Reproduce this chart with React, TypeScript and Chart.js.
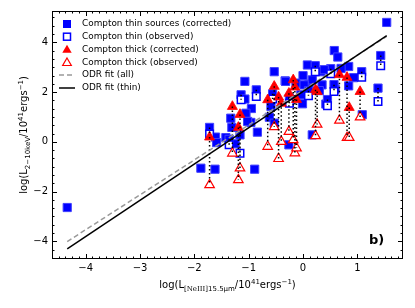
import React, { useEffect, useRef } from "react";
import { Chart, registerables } from "chart.js";

Chart.register(...registerables);

const FONT = '"DejaVu Sans"';

const xTicks = [-4, -3, -2, -1, 0, 1];
const yTicks = [-4, -2, 0, 2, 4];

// Compton thin sources: x, corrected y, observed y (null when observed = corrected)
const thinX = [1.54, -4.34, -1.88, -1.62, -0.89, 0.575, 0.64, 1.43, 0.08, 0.225, 0.33, 0.51, 0.84, 1.08, 0.93, -0.53, -1.07, -0.86, -1.14, -1.07, 1.38, 0.59, 0.84, 0.0, -0.33, -0.13, 0.11, 0.35, 0.3, -0.56, -0.59, -0.95, -1.05, -1.33, -0.96, -0.62, -1.31, -1.72, -1.61, -1.59, -1.42, -1.16, -1.25, -0.84, 0.17, -0.26, 0.42, 1.09, -0.01, 0.17, 0.02, -0.04, -0.53, -1.02, -0.32, 0.39, 0.57, -1.36, -0.25, 0.1, 0.45, 0.7];
const thinCorr = [4.8, -2.64, -1.06, -1.1, -1.1, 3.67, 3.41, 3.47, 3.09, 3.06, 2.82, 2.94, 3.03, 2.82, 2.58, 2.82, 2.43, 2.09, 1.89, 1.72, 2.16, 2.12, 2.25, 2.66, 2.45, 2.36, 2.32, 2.29, 2.06, 1.93, 1.42, 1.34, 1.15, 0.95, 0.78, 0.99, 0.58, 0.58, 0.19, -0.03, 0.17, 0.28, -0.08, 0.39, 0.28, -0.12, 1.52, 1.09, 1.53, 2.49, 2.29, 1.89, 0.75, 0.82, 2.43, 2.9, 2.3, 0.1, 1.75, 2.05, 1.7, 2.95];
const thinObs = [null, null, null, null, null, null, null, 3.06, null, 2.82, null, 2.74, null, 2.6, null, null, null, 1.82, 1.69, null, 1.62, null, null, null, null, null, null, null, null, 1.72, null, null, null, null, null, null, null, 0.32, null, null, null, -0.46, null, null, null, null, null, null, null, null, null, null, null, null, null, null, 2.02, -0.12, 1.55, 1.85, 1.45, null];

// Compton thick sources: x, corrected y, observed y
const thickX = [-1.72, -1.3, -1.16, -1.19, -0.65, -0.45, -0.53, -0.4, -0.26, -0.18, -0.15, -0.12, 0.23, 0.26, 0.67, 0.81, 0.85, 1.05];
const thickCorr = [0.19, 1.42, 1.1, 0.58, 1.69, 1.8, 2.23, 1.55, 1.95, 2.49, 2.2, 1.7, 2.09, 2.02, 2.7, 2.59, 1.38, 2.02];
const thickObs = [-1.73, -0.46, -1.06, -1.53, -0.19, -0.68, 0.6, 0.01, 0.41, 0.08, -0.45, -0.25, 0.24, 0.7, 0.86, 0.17, 0.17, 0.99];

// ODR fits (end points)
const fitAllX = [-4.34, 1.54];
const fitAllY = [-4.01, 4.24];
const fitThinX = [-4.34, 1.54];
const fitThinY = [-4.3, 4.27];

const legendLabels = [
  "Compton thin sources (corrected)",
  "Compton thin (observed)",
  "Compton thick (corrected)",
  "Compton thick (observed)",
  "ODR fit (all)",
  "ODR fit (thin)",
];

const fmt = (v: number) => String(v).replace("-", "\u2212");

type Seg = { t: string; f: string; dy: number };

function drawRich(ctx: CanvasRenderingContext2D, segs: Seg[], cx: number, y: number) {
  let total = 0;
  for (const s of segs) {
    ctx.font = s.f;
    total += ctx.measureText(s.t).width;
  }
  let x = cx - total / 2;
  ctx.textAlign = "left";
  ctx.textBaseline = "alphabetic";
  for (const s of segs) {
    ctx.font = s.f;
    ctx.fillText(s.t, x, y + s.dy);
    x += ctx.measureText(s.t).width;
  }
}

function tri(ctx: CanvasRenderingContext2D, x: number, y: number, r: number) {
  ctx.beginPath();
  ctx.moveTo(x, y - r);
  ctx.lineTo(x + r * 0.866, y + r * 0.5);
  ctx.lineTo(x - r * 0.866, y + r * 0.5);
  ctx.closePath();
}

const decorPlugin = {
  id: "decor",
  afterDraw(chart: any) {
    const ctx: CanvasRenderingContext2D = chart.ctx;
    const { left, right, top, bottom } = chart.chartArea;
    const xs = chart.scales.x;
    const ys = chart.scales.y;
    ctx.save();
    ctx.strokeStyle = "#000";
    ctx.lineWidth = 1;
    ctx.strokeRect(left + 0.5, top + 0.5, right - left - 1, bottom - top - 1);
    for (let k = Math.ceil(xs.min * 8); k <= Math.floor(xs.max * 8); k++) {
      const px = Math.round(xs.getPixelForValue(k / 8)) + 0.5;
      const len = k % 8 === 0 ? 5 : 2.5;
      ctx.beginPath();
      ctx.moveTo(px, bottom);
      ctx.lineTo(px, bottom - len);
      ctx.moveTo(px, top);
      ctx.lineTo(px, top + len);
      ctx.stroke();
    }
    for (let k = Math.ceil(ys.min * 3); k <= Math.floor(ys.max * 3); k++) {
      const py = Math.round(ys.getPixelForValue(k / 3)) + 0.5;
      const len = k % 6 === 0 ? 5 : 2.5;
      ctx.beginPath();
      ctx.moveTo(left, py);
      ctx.lineTo(left + len, py);
      ctx.moveTo(right, py);
      ctx.lineTo(right - len, py);
      ctx.stroke();
    }
    ctx.fillStyle = "#000";
    const main = `10px ${FONT}`;
    const small = `7px ${FONT}`;
    const serifSmall = `7px "DejaVu Serif"`;
    drawRich(
      ctx,
      [
        { t: "log(L", f: main, dy: 0 },
        { t: "[NeIII]", f: serifSmall, dy: 2.5 },
        { t: "15.5\u03bcm", f: small, dy: 2.5 },
        { t: "/10", f: main, dy: 0 },
        { t: "41", f: small, dy: -4 },
        { t: "ergs", f: main, dy: 0 },
        { t: "\u22121", f: small, dy: -4 },
        { t: ")", f: main, dy: 0 },
      ],
      (left + right) / 2,
      288
    );
    ctx.save();
    ctx.translate(27, (top + bottom) / 2);
    ctx.rotate(-Math.PI / 2);
    drawRich(
      ctx,
      [
        { t: "log(L", f: main, dy: 0 },
        { t: "2\u221210keV", f: small, dy: 2.5 },
        { t: "/10", f: main, dy: 0 },
        { t: "41", f: small, dy: -4 },
        { t: "ergs", f: main, dy: 0 },
        { t: "\u22121", f: small, dy: -4 },
        { t: ")", f: main, dy: 0 },
      ],
      0,
      0
    );
    ctx.restore();
    ctx.font = `bold 13px ${FONT}`;
    ctx.textAlign = "left";
    ctx.textBaseline = "alphabetic";
    ctx.fillText("b)", 369, 244);
    // legend
    const rows = [24, 36.7, 49.3, 62.2, 75, 88];
    const mx = 67;
    ctx.fillStyle = "#0000ff";
    ctx.fillRect(mx - 4, rows[0] - 4, 8, 8);
    ctx.fillStyle = "#fff";
    ctx.strokeStyle = "#0000ff";
    ctx.lineWidth = 1.5;
    ctx.fillRect(mx - 3.5, rows[1] - 3.5, 7, 7);
    ctx.strokeRect(mx - 3.5, rows[1] - 3.5, 7, 7);
    ctx.fillStyle = "#ff0000";
    tri(ctx, mx, rows[2] + 0.8, 5.4);
    ctx.fill();
    ctx.fillStyle = "#fff";
    ctx.strokeStyle = "#ff0000";
    ctx.lineWidth = 1.2;
    tri(ctx, mx, rows[3] + 0.8, 5);
    ctx.fill();
    ctx.stroke();
    ctx.strokeStyle = "#999999";
    ctx.lineWidth = 1.5;
    ctx.setLineDash([5, 3]);
    ctx.beginPath();
    ctx.moveTo(59, rows[4]);
    ctx.lineTo(75, rows[4]);
    ctx.stroke();
    ctx.setLineDash([]);
    ctx.strokeStyle = "#000";
    ctx.beginPath();
    ctx.moveTo(59, rows[5]);
    ctx.lineTo(75, rows[5]);
    ctx.stroke();
    ctx.fillStyle = "#000";
    ctx.font = `8.9px ${FONT}`;
    ctx.textBaseline = "middle";
    legendLabels.forEach((l, i) => ctx.fillText(l, 82, rows[i]));
    ctx.restore();
  },
};

export default function App() {
  const ref = useRef<HTMLCanvasElement>(null);
  useEffect(() => {
    const canvas = ref.current!;
    const thinC = thinX.map((x, i) => ({ x, y: thinCorr[i] }));
    const thinO: { x: number; y: number }[] = [];
    const links: { x: number; y: number | null }[] = [];
    thinX.forEach((x, i) => {
      const o = thinObs[i];
      if (o !== null) {
        thinO.push({ x, y: o });
        links.push({ x, y: thinCorr[i] }, { x, y: o }, { x, y: null });
      }
    });
    const thickC = thickX.map((x, i) => ({ x, y: thickCorr[i] }));
    const thickO = thickX.map((x, i) => ({ x, y: thickObs[i] }));
    thickX.forEach((x, i) => {
      links.push({ x, y: thickCorr[i] }, { x, y: thickObs[i] }, { x, y: null });
    });
    const fitAll = fitAllX.map((x, i) => ({ x, y: fitAllY[i] }));
    const fitThin = fitThinX.map((x, i) => ({ x, y: fitThinY[i] }));

    const chart = new Chart(canvas, {
      type: "scatter",
      data: {
        datasets: [
          {
            label: "ODR fit (thin)",
            data: fitThin,
            showLine: true,
            borderColor: "#000",
            borderWidth: 1.5,
            pointRadius: 0,
          },
          {
            label: "ODR fit (all)",
            data: fitAll,
            showLine: true,
            borderColor: "#999999",
            borderWidth: 1.5,
            borderDash: [5, 3],
            pointRadius: 0,
          },
          {
            label: "links",
            data: links as any,
            showLine: true,
            spanGaps: false,
            borderColor: "#000",
            borderWidth: 1.5,
            borderDash: [1.5, 2.5],
            pointRadius: 0,
          },
          {
            label: "Compton thick (observed)",
            data: thickO,
            pointStyle: "triangle",
            pointRadius: 5.5,
            backgroundColor: "#ffffff",
            borderColor: "#ff0000",
            borderWidth: 1.2,
          },
          {
            label: "Compton thick (corrected)",
            data: thickC,
            pointStyle: "triangle",
            pointRadius: 5.8,
            backgroundColor: "#ff0000",
            borderColor: "#ff0000",
            borderWidth: 0.8,
          },
          {
            label: "Compton thin (observed)",
            data: thinO,
            pointStyle: "rect",
            pointRadius: 5.3,
            backgroundColor: "#ffffff",
            borderColor: "#0000ff",
            borderWidth: 1.5,
          },
          {
            label: "Compton thin sources (corrected)",
            data: thinC,
            pointStyle: "rect",
            pointRadius: 5.8,
            backgroundColor: "#0000ff",
            borderColor: "#4040ff",
            borderWidth: 1,
          },
        ],
      },
      options: {
        responsive: false,
        animation: false,
        events: [],
        layout: { padding: { left: 0, top: 11, right: 12, bottom: 0 } },
        plugins: { legend: { display: false }, tooltip: { enabled: false } },
        scales: {
          x: {
            type: "linear",
            min: -4.62,
            max: 1.84,
            grid: { display: false, drawTicks: false },
            border: { display: false },
            ticks: {
              color: "#000",
              font: { family: FONT, size: 10 },
              padding: 3,
              maxRotation: 0,
              autoSkip: false,
              callback: (v: any) => fmt(v),
            },
            afterBuildTicks: (s: any) => {
              s.ticks = xTicks.map((v) => ({ value: v }));
            },
            afterFit: (s: any) => {
              s.height = 49;
            },
          },
          y: {
            type: "linear",
            min: -4.71,
            max: 5.26,
            grid: { display: false, drawTicks: false },
            border: { display: false },
            ticks: {
              color: "#000",
              font: { family: FONT, size: 10 },
              padding: 4,
              autoSkip: false,
              callback: (v: any) => fmt(v),
            },
            afterBuildTicks: (s: any) => {
              s.ticks = yTicks.map((v) => ({ value: v }));
            },
            afterFit: (s: any) => {
              s.width = 52;
            },
          },
        },
      },
      plugins: [decorPlugin],
    });
    return () => chart.destroy();
  }, []);
  return (
    <div style={{ position: "fixed", left: 0, top: 0, width: 415, height: 308, background: "#fff" }}>
      <canvas ref={ref} width={415} height={308} style={{ display: "block", width: 415, height: 308 }} />
    </div>
  );
}
